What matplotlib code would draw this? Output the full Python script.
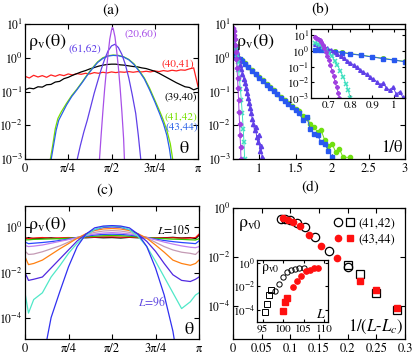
import numpy as np
import matplotlib
matplotlib.use('Agg')
import matplotlib.pyplot as plt
from matplotlib.ticker import FixedLocator, NullLocator, LogFormatterSciNotation
from matplotlib.legend_handler import HandlerTuple

W, H = 415, 357
plt.rcParams.update({
    'font.family': 'STIXGeneral',
    'mathtext.fontset': 'stix',
    'font.size': 9,
    'xtick.labelsize': 9, 'ytick.labelsize': 8.5,
    'xtick.direction': 'in', 'ytick.direction': 'in',
    'xtick.top': True, 'ytick.right': True,
    'xtick.major.size': 3.5, 'ytick.major.size': 3.5,
    'xtick.major.width': 0.8, 'ytick.major.width': 0.8,
    'axes.linewidth': 0.9,
    'xtick.major.pad': 3, 'ytick.major.pad': 1.5,
})

# ---------------- panel (a) data : theta/pi , log10(rho) ----------------
GRID_A = [0.0, 0.025, 0.05, 0.075, 0.1, 0.125, 0.15, 0.175, 0.2, 0.225, 0.25, 0.275, 0.3,
          0.325, 0.35, 0.375, 0.4, 0.425, 0.45, 0.475, 0.5, 0.525, 0.55, 0.575, 0.6, 0.625,
          0.65, 0.675, 0.7, 0.725, 0.75, 0.775, 0.8, 0.825, 0.85, 0.875, 0.9, 0.925, 0.95, 0.975, 1.0]
RED_40_41 = [-0.55, -0.60, -0.52, -0.57, -0.53, -0.58, -0.51, -0.55, -0.50, -0.53, -0.48, -0.51,
             -0.47, -0.49, -0.46, -0.48, -0.44, -0.46, -0.43, -0.45, -0.42, -0.44, -0.42, -0.43,
             -0.41, -0.43, -0.41, -0.42, -0.40, -0.42, -0.39, -0.41, -0.38, -0.40, -0.37, -0.39,
             -0.36, -0.37, -0.33, -0.30, -0.85]
BLACK_39_40 = [-0.95, -0.90, -0.92, -0.86, -0.87, -0.80, -0.79, -0.72, -0.70, -0.62, -0.58, -0.52,
               -0.47, -0.42, -0.38, -0.33, -0.29, -0.25, -0.22, -0.20, -0.19, -0.19, -0.21, -0.22,
               -0.24, -0.26, -0.27, -0.30, -0.32, -0.36, -0.40, -0.46, -0.53, -0.60, -0.67, -0.74,
               -0.80, -0.86, -0.88, -0.95, -0.90]
GREEN_T = [0.145, 0.16, 0.175, 0.19, 0.21, 0.24, 0.27, 0.30, 0.33, 0.36, 0.39, 0.42, 0.45, 0.48,
           0.51, 0.54, 0.57, 0.60, 0.63, 0.66, 0.69, 0.72, 0.75, 0.78, 0.80, 0.82, 0.84, 0.855]
GREEN_41_42 = [-3.05, -2.6, -2.1, -1.8, -1.6, -1.35, -1.12, -0.93, -0.72, -0.5, -0.3, -0.12, 0.0,
               0.06, 0.08, 0.07, 0.03, -0.05, -0.18, -0.38, -0.6, -0.9, -1.25, -1.6, -1.85, -2.15,
               -2.55, -3.05]
BLUE_T = [0.15, 0.165, 0.18, 0.195, 0.215, 0.24, 0.27, 0.30, 0.33, 0.36, 0.39, 0.42, 0.45, 0.48,
          0.51, 0.54, 0.57, 0.60, 0.63, 0.66, 0.69, 0.72, 0.75, 0.78, 0.80, 0.82, 0.835, 0.845]
BLUE_43_44 = [-3.05, -2.6, -2.15, -1.85, -1.65, -1.4, -1.15, -0.95, -0.74, -0.52, -0.32, -0.14,
              -0.02, 0.05, 0.07, 0.06, 0.02, -0.06, -0.2, -0.4, -0.63, -0.95, -1.3, -1.68, -1.95,
              -2.3, -2.7, -3.05]
VIOLET_T = [0.30, 0.32, 0.34, 0.36, 0.38, 0.40, 0.42, 0.44, 0.46, 0.48, 0.50, 0.52, 0.54, 0.56,
            0.58, 0.60, 0.62, 0.64, 0.655, 0.67]
VIOLET_61_62 = [-3.05, -2.6, -2.2, -1.85, -1.45, -1.05, -0.7, -0.35, -0.05, 0.2, 0.35, 0.4, 0.3,
                0.1, -0.2, -0.6, -1.1, -1.65, -2.3, -3.05]
ORCHID_T = [0.43, 0.44, 0.45, 0.46, 0.47, 0.48, 0.49, 0.50, 0.505, 0.51, 0.52, 0.53, 0.54, 0.55,
            0.56, 0.57, 0.575]
ORCHID_20_60 = [-3.05, -2.3, -1.6, -0.95, -0.4, 0.1, 0.55, 0.82, 0.9, 0.86, 0.62, 0.2, -0.3,
                -0.9, -1.6, -2.4, -3.05]

# ---------------- panel (b) data : 1/theta , log10(rho) ----------------
B_ORCHID_X = [0.637, 0.645, 0.652, 0.66, 0.667, 0.674, 0.681, 0.688, 0.695, 0.702, 0.709, 0.716,
              0.723, 0.730, 0.737, 0.744, 0.75]
B_ORCHID_Y = [0.88, 0.85, 0.78, 0.68, 0.55, 0.38, 0.18, -0.05, -0.3, -0.6, -0.9, -1.25, -1.6,
              -1.95, -2.3, -2.65, -3.0]
B_TURQ_X = [0.637, 0.65, 0.663, 0.676, 0.689, 0.702, 0.715, 0.728, 0.741, 0.754, 0.767, 0.78,
            0.79, 0.80]
B_TURQ_Y = [0.5, 0.45, 0.35, 0.22, 0.07, -0.12, -0.35, -0.62, -0.92, -1.25, -1.65, -2.1, -2.5, -3.0]
B_VIOLET_X = [0.637, 0.65, 0.665, 0.68, 0.695, 0.71, 0.725, 0.74, 0.755, 0.77, 0.785, 0.80, 0.815,
              0.83, 0.845, 0.86, 0.875, 0.89, 0.905, 0.92, 0.935, 0.95, 0.965, 0.98, 0.995, 1.01,
              1.025, 1.04, 1.05]
B_VIOLET_Y = [0.42, 0.4, 0.35, 0.28, 0.18, 0.06, -0.07, -0.2, -0.34, -0.48, -0.62, -0.76, -0.9,
              -1.05, -1.2, -1.35, -1.5, -1.65, -1.8, -1.95, -2.15, -2.05, -2.35, -2.5, -2.3, -2.75,
              -2.6, -2.95, -3.0]
B_GREEN_X = [0.637, 0.66, 0.68, 0.70, 0.73, 0.76, 0.80, 0.85, 0.90, 0.95, 1.00, 1.05, 1.10, 1.15,
             1.20, 1.25, 1.30, 1.35, 1.40, 1.45, 1.50, 1.55, 1.60, 1.65, 1.70, 1.75, 1.80, 1.85,
             1.90, 1.95, 2.00, 2.05, 2.10, 2.15, 2.25]
B_GREEN_Y = [0.08, 0.07, 0.04, 0.02, -0.03, -0.08, -0.17, -0.26, -0.37, -0.47, -0.57, -0.67,
             -0.78, -0.88, -0.97, -1.06, -1.16, -1.24, -1.35, -1.42, -1.52, -1.58, -1.72, -1.78,
             -1.95, -2.05, -2.2, -2.15, -2.45, -2.6, -2.55, -2.8, -2.7, -2.95, -2.95]
B_BLUE_X = [0.637, 0.66, 0.68, 0.70, 0.73, 0.76, 0.80, 0.85, 0.90, 0.95, 1.00, 1.05, 1.10, 1.15,
            1.20, 1.25, 1.30, 1.35, 1.40, 1.45, 1.50, 1.55, 1.60, 1.65, 1.70, 1.75, 1.80, 1.85,
            1.90, 1.95, 2.00]
B_BLUE_Y = [0.07, 0.06, 0.03, 0.0, -0.05, -0.1, -0.19, -0.28, -0.39, -0.49, -0.59, -0.69, -0.8,
            -0.9, -0.99, -1.08, -1.18, -1.27, -1.38, -1.46, -1.56, -1.65, -1.85, -1.75, -2.1,
            -2.25, -2.3, -2.5, -2.55, -2.75, -2.95]

# ---------------- panel (c) data : theta/pi , log10(rho) for L = 105 ... 96 ----------------
GRID_C = [0.0, 0.02, 0.05, 0.1, 0.15, 0.2, 0.25, 0.3, 0.35, 0.4, 0.45, 0.5, 0.55, 0.6, 0.65, 0.7,
          0.75, 0.8, 0.85, 0.9, 0.95, 0.98, 1.0]
C_CURVES = [
    ('#000000', [-0.5, -0.45, -0.5, -0.48, -0.46, -0.5, -0.47, -0.45, -0.46, -0.44, -0.46, -0.45,
                 -0.47, -0.44, -0.46, -0.45, -0.47, -0.46, -0.44, -0.47, -0.45, -0.5, -0.35]),
    ('#ff1010', [-0.45, -0.5, -0.47, -0.45, -0.48, -0.46, -0.45, -0.46, -0.44, -0.43, -0.42, -0.42,
                 -0.43, -0.43, -0.44, -0.45, -0.46, -0.47, -0.46, -0.48, -0.47, -0.45, -0.3]),
    ('#30c800', [-0.55, -0.55, -0.53, -0.52, -0.51, -0.5, -0.48, -0.45, -0.42, -0.39, -0.37, -0.36,
                 -0.37, -0.39, -0.42, -0.45, -0.48, -0.5, -0.52, -0.53, -0.55, -0.56, -0.5]),
    ('#2848ff', [-0.65, -0.72, -0.7, -0.67, -0.63, -0.58, -0.52, -0.45, -0.39, -0.34, -0.31, -0.3,
                 -0.31, -0.34, -0.39, -0.45, -0.52, -0.58, -0.63, -0.67, -0.7, -0.72, -0.6]),
    ('#c080f0', [-0.8, -0.85, -0.83, -0.78, -0.7, -0.62, -0.54, -0.45, -0.36, -0.29, -0.25, -0.23,
                 -0.25, -0.29, -0.36, -0.45, -0.55, -0.65, -0.74, -0.82, -0.88, -0.9, -0.85]),
    ('#c49ab4', [-1.05, -1.2, -1.18, -1.08, -0.95, -0.82, -0.65, -0.47, -0.32, -0.22, -0.16, -0.14,
                 -0.16, -0.22, -0.32, -0.47, -0.66, -0.85, -1.0, -1.1, -1.15, -1.2, -1.05]),
    ('#ff8010', [-1.3, -1.65, -1.6, -1.45, -1.2, -0.95, -0.72, -0.48, -0.28, -0.14, -0.07, -0.05,
                 -0.07, -0.14, -0.28, -0.48, -0.78, -1.1, -1.45, -1.6, -1.68, -1.6, -1.45]),
    ('#5028e0', [-2.0, -2.35, -2.3, -2.2, -1.8, -1.4, -1.0, -0.6, -0.3, -0.1, 0.0, 0.02, 0.0, -0.1,
                 -0.3, -0.62, -1.06, -1.6, -2.1, -2.35, -2.4, -2.3, -2.2]),
    ('#50e8c8', [-2.9, -3.8, -3.2, -2.9, -2.2, -1.7, -1.15, -0.7, -0.35, -0.1, 0.03, 0.06, 0.03,
                 -0.1, -0.4, -0.85, -1.5, -2.2, -2.9, -3.6, -3.3, -3.0, -2.9]),
    ('#3030f0', [-7, -7, -7, -6.0, -4.0, -2.85, -1.75, -0.85, -0.3, -0.02, 0.06, 0.08, 0.06, -0.02,
                 -0.3, -0.85, -1.8, -3.0, -4.6, -7, -7, -7, -7]),
]

# ---------------- panel (d) data ----------------
L_BLACK_CIRC = [98, 99, 100, 101, 102, 103, 104, 105]
R_BLACK_CIRC = [-2.40, -1.76, -1.18, -0.77, -0.60, -0.50, -0.46, -0.43]
LC_BLACK_CIRC = 93
L_BLACK_SQ = [95.5, 96, 96.5, 97]
R_BLACK_SQ = [-4.17, -3.49, -2.70, -2.33]
LC_BLACK_SQ = 92
L_RED_CIRC = [102.5, 103.5, 104.5, 105.5, 106.5, 107.5, 108.5]
R_RED_CIRC = [-2.06, -1.55, -1.09, -0.73, -0.57, -0.47, -0.42]
LC_RED_CIRC = 97
L_RED_SQ = [100, 100.5, 101]
R_RED_SQ = [-4.07, -3.35, -2.98]
LC_RED_SQ = 96.5

PI_TICKS = ['0', 'π/4', 'π/2', '3π/4', 'π']

fig = plt.figure(figsize=(W / 100, H / 100), dpi=100)


def px_axes(x0, y0, x1, y1):
    return fig.add_axes([x0 / W, 1 - y1 / H, (x1 - x0) / W, (y1 - y0) / H])


def logy(ax, lo, hi, ticks):
    ax.set_yscale('log')
    ax.set_ylim(lo, hi)
    ax.yaxis.set_major_locator(FixedLocator(ticks))
    ax.yaxis.set_minor_locator(NullLocator())
    ax.yaxis.set_major_formatter(LogFormatterSciNotation())


def pi_axis(ax):
    ax.set_xlim(0, np.pi)
    ax.set_xticks([0, np.pi / 4, np.pi / 2, 3 * np.pi / 4, np.pi])
    ax.set_xticklabels(PI_TICKS)


def L(v):
    return 10 ** np.asarray(v, dtype=float)


RHO_V = r'ρ$_\mathrm{v}$(θ)'

# ---------------- (a) ----------------
axa = px_axes(25, 24, 198, 159)
logy(axa, 1e-3, 1e1, [1e-3, 1e-2, 1e-1, 1e0, 1e1])
pi_axis(axa)
lw = 0.9
axa.plot(np.pi * np.array(GRID_A), L(RED_40_41), color='#ff2020', lw=lw)
axa.plot(np.pi * np.array(GRID_A), L(BLACK_39_40), color='black', lw=lw)
axa.plot(np.pi * np.array(GREEN_T), L(GREEN_41_42), color='#78e000', lw=lw)
axa.plot(np.pi * np.array(BLUE_T), L(BLUE_43_44), color='#2860e8', lw=lw)
axa.plot(np.pi * np.array(VIOLET_T), L(VIOLET_61_62), color='#6040e8', lw=lw)
axa.plot(np.pi * np.array(ORCHID_T), L(ORCHID_20_60), color='#a850e8', lw=lw)
axa.text(0.02, 0.87, RHO_V, transform=axa.transAxes, fontsize=13, va='center')
axa.text(0.92, 0.075, 'θ', transform=axa.transAxes, fontsize=13, ha='center', va='center')
fs_lab = 8
axa.text(0.578, 0.926, '(20,60)', transform=axa.transAxes, color='#a850e8', fontsize=fs_lab, va='center')
axa.text(0.249, 0.815, '(61,62)', transform=axa.transAxes, color='#6040e8', fontsize=fs_lab, va='center')
axa.text(0.79, 0.70, '(40,41)', transform=axa.transAxes, color='#ff2020', fontsize=fs_lab, va='center')
axa.text(0.995, 0.455, '(39,40)', transform=axa.transAxes, color='black', fontsize=fs_lab, va='center', ha='right')
axa.text(0.995, 0.31, '(41,42)', transform=axa.transAxes, color='#78e000', fontsize=fs_lab, va='center', ha='right')
axa.text(1.0, 0.235, '(43,44)', transform=axa.transAxes, color='#2860e8', fontsize=fs_lab, va='center', ha='right')
fig.text(111 / W, 1 - 10 / H, '(a)', ha='center', va='center', fontsize=11)

# ---------------- (b) ----------------
axb = px_axes(233, 24, 405, 159)
logy(axb, 1e-3, 1e1, [1e-3, 1e-2, 1e-1, 1e0, 1e1])
axb.set_xlim(0.64, 3.0)
axb.set_xticks([1, 1.5, 2, 2.5, 3])
axb.set_xticklabels(['1', '1.5', '2', '2.5', '3'])


def draw_b(ax, ms):
    ax.plot(B_GREEN_X, L(B_GREEN_Y), color='#70e010', lw=0.7, marker='o', ms=ms, mec='#70e010')
    ax.plot(B_BLUE_X, L(B_BLUE_Y), color='#2858f0', lw=0.7, marker='s', ms=ms * 0.9, mec='#2858f0')
    ax.plot(B_VIOLET_X, L(B_VIOLET_Y), color='#6040e8', lw=0.7, marker='^', ms=ms, mec='#6040e8')
    ax.plot(B_TURQ_X, L(B_TURQ_Y), color='#40e0c0', lw=0.7, marker='x', ms=ms, mew=1.1)
    ax.plot(B_ORCHID_X, L(B_ORCHID_Y), color='#a040e0', lw=0.7, marker='P', ms=ms, mec='#a040e0')


draw_b(axb, 3.0)
axb.text(0.02, 0.87, RHO_V, transform=axb.transAxes, fontsize=13, va='center')
axb.text(0.985, 0.085, '1/θ', transform=axb.transAxes, fontsize=12, ha='right', va='center')
fig.text(320 / W, 1 - 10 / H, '(b)', ha='center', va='center', fontsize=11)

axbi = px_axes(311, 29, 405, 98)
logy(axbi, 1e-3, 2.5e1, [1e-3, 1e-2, 1e-1, 1e0, 1e1])
axbi.set_xlim(0.62, 1.05)
axbi.set_xticks([0.7, 0.8, 0.9, 1.0])
axbi.set_xticklabels(['0.7', '0.8', '0.9', '1'])
axbi.tick_params(labelsize=8, length=2.5, pad=1.5)
draw_b(axbi, 2.6)

# ---------------- (c) ----------------
axc = px_axes(25, 206, 199, 339)
logy(axc, 10 ** -4.95, 10 ** 0.95, [1e-4, 1e-2, 1e0])
pi_axis(axc)
for col, vals in C_CURVES:
    axc.plot(np.pi * np.array(GRID_C), L(vals), color=col, lw=0.9)
axc.text(0.02, 0.86, RHO_V, transform=axc.transAxes, fontsize=13, va='center')
axc.text(0.94, 0.07, 'θ', transform=axc.transAxes, fontsize=13, ha='center', va='center')
axc.text(0.76, 0.82, r'$L$=105', transform=axc.transAxes, fontsize=8.5, va='center')
axc.text(0.81, 0.28, r'$L$=96', transform=axc.transAxes, fontsize=8.5, va='center', ha='right',
         color='#6048e0')
fig.text(105 / W, 1 - 190 / H, '(c)', ha='center', va='center', fontsize=11)

# ---------------- (d) ----------------
axd = px_axes(233, 208, 405, 339)
logy(axd, 10 ** -5.35, 1.0, [1e-4, 1e-2, 1e0])
axd.set_xlim(0, 0.3)
axd.set_xticks([0, 0.05, 0.1, 0.15, 0.2, 0.25, 0.3])
axd.set_xticklabels(['0', '0.05', '0.1', '0.15', '0.2', '0.25', '0.3'])


def inv(Ls, Lc):
    return 1.0 / (np.asarray(Ls, dtype=float) - Lc)


h1, = axd.plot(inv(L_BLACK_CIRC, LC_BLACK_CIRC), L(R_BLACK_CIRC), 'o', mfc='none', mec='black', ms=6, mew=0.9)
h2, = axd.plot(inv(L_BLACK_SQ, LC_BLACK_SQ), L(R_BLACK_SQ), 's', mfc='none', mec='black', ms=5.5, mew=0.9)
h3, = axd.plot(inv(L_RED_CIRC, LC_RED_CIRC), L(R_RED_CIRC), 'o', color='#ff1010', ms=4.5)
h4, = axd.plot(inv(L_RED_SQ, LC_RED_SQ), L(R_RED_SQ), 's', color='#ff1010', ms=4.2)
axd.legend([(h1, h2), (h3, h4)], ['(41,42)', '(43,44)'],
           handler_map={tuple: HandlerTuple(ndivide=None, pad=0.3)},
           loc='upper right', frameon=False, fontsize=9, handlelength=1.6,
           handletextpad=0.3, borderaxespad=0.4, labelspacing=0.3)
axd.text(0.03, 0.87, r'ρ$_\mathrm{v0}$', transform=axd.transAxes, fontsize=13, va='center')
axd.text(0.99, 0.09, r'1/($L$-$L_c$)', transform=axd.transAxes, fontsize=12, ha='right', va='center')
fig.text(310 / W, 1 - 188 / H, '(d)', ha='center', va='center', fontsize=11)

axdi = px_axes(257, 260, 328, 322)
logy(axdi, 10 ** -5.05, 10 ** 0.25, [1e-4, 1e-2, 1e0])
axdi.set_xlim(93.6, 111)
axdi.set_xticks([95, 100, 105, 110])
axdi.tick_params(labelsize=8, length=2.5, pad=1.5)
axdi.plot(L_BLACK_CIRC, L(R_BLACK_CIRC), 'o', mfc='none', mec='black', ms=3.8, mew=0.7)
axdi.plot(L_BLACK_SQ, L(R_BLACK_SQ), 's', mfc='none', mec='black', ms=3.8, mew=0.7)
axdi.plot(L_RED_CIRC, L(R_RED_CIRC), 'o', color='#ff1010', ms=3.8)
axdi.plot(L_RED_SQ, L(R_RED_SQ), 's', color='#ff1010', ms=3.8)
axdi.text(0.05, 0.85, r'ρ$_\mathrm{v0}$', transform=axdi.transAxes, fontsize=10, va='center')
axdi.text(0.9, 0.12, r'$L$', transform=axdi.transAxes, fontsize=10, ha='center', va='center')

fig.savefig('out.png', dpi=100)
